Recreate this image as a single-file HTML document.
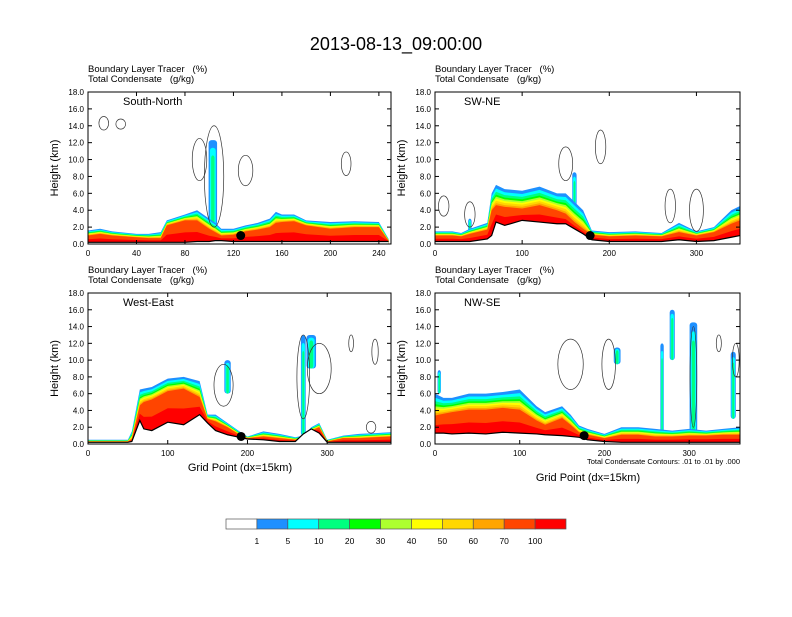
<!DOCTYPE html>
<html><head><meta charset="utf-8"><style>
body{margin:0;background:#fff;font-family:"Liberation Sans",sans-serif}
svg text{font-family:"Liberation Sans",sans-serif}
</style></head><body>
<svg id="c" width="792" height="612" viewBox="0 0 792 612">
<text x="396" y="50" font-size="18" text-anchor="middle">2013-08-13_09:00:00</text>
</svg>
<script>
// ---- data ----
const panelNames = ["South-North","SW-NE","West-East","NW-SE"];
const xMax = [250, 350, 380, 360];
const xTicks = [[0,40,80,120,160,200,240],[0,100,200,300],[0,100,200,300],[0,100,200,300]];
const yTicks = [0,2,4,6,8,10,12,14,16,18];
const gp0 = [0,10,20,40,50,60,65,80,90,100,105,110,120,130,140,150,155,160,170,180,200,220,240,248];
const top0 = [1.6,1.8,1.5,1.2,1.2,1.4,2.8,3.5,4.0,3.0,2.5,1.8,1.8,2.2,2.5,3.0,3.8,3.5,3.5,2.8,2.6,2.7,2.6,0.6];
const core0 = [1.0,1.2,1.0,0.8,0.7,0.7,2.2,2.8,2.8,1.8,1.4,1.0,1.1,1.5,1.7,2.0,2.5,2.6,2.7,2.2,1.8,2.0,2.0,0.4];
const terr0 = [0.2,0.2,0.2,0.2,0.2,0.2,0.2,0.2,0.3,0.3,0.4,0.4,0.3,0.3,0.3,0.3,0.3,0.3,0.3,0.3,0.3,0.3,0.3,0.3];
const gp1 = [0,20,30,40,60,65,70,80,100,120,140,150,160,170,180,200,230,260,280,290,300,320,340,350];
const top1 = [1.5,1.5,1.3,1.8,2.5,6.0,7.0,6.5,6.3,6.8,6.0,6.0,5.0,4.0,1.6,1.4,1.5,1.3,2.5,2.0,1.5,2.0,4.0,4.5];
const core1 = [1.0,1.0,0.9,1.2,1.7,4.0,4.6,4.4,4.2,4.6,4.0,3.6,2.6,1.8,1.1,0.9,1.0,0.9,1.4,1.2,1.0,1.4,2.4,2.8];
const terr1 = [0.3,0.3,0.3,0.3,0.6,1.0,2.6,2.2,2.8,2.6,2.4,2.4,1.8,1.2,0.5,0.3,0.3,0.3,0.5,0.4,0.3,0.4,0.8,1.0];
const gp2 = [0,20,50,55,65,70,80,100,120,140,150,160,175,190,200,220,240,260,270,280,290,300,320,340,360,380];
const top2 = [0.5,0.5,0.5,1.5,6.5,6.6,6.8,7.8,8.0,7.5,3.5,3.5,2.5,1.5,0.9,1.5,1.2,0.8,1.0,2.0,2.5,0.5,1.0,1.2,1.3,1.4];
const core2 = [0.3,0.3,0.3,0.6,4.6,5.0,5.3,6.3,6.6,5.6,3.0,2.7,2.0,1.1,0.7,0.9,0.7,0.5,0.7,1.6,2.0,0.3,0.7,0.7,0.8,0.9];
const terr2 = [0.2,0.2,0.2,0.3,2.8,1.8,1.6,2.6,2.3,3.5,2.5,1.6,1.1,0.8,0.6,0.5,0.3,0.3,1.2,1.8,1.3,0.2,0.2,0.2,0.2,0.2];
const gp3 = [0,10,20,40,60,80,100,120,130,150,160,170,180,200,220,240,260,280,300,320,340,360];
const top3 = [6.0,5.5,5.5,6.0,6.0,6.2,6.5,4.5,3.8,4.5,3.5,2.2,1.8,1.2,2.0,2.0,1.8,1.6,1.8,1.6,1.8,2.0];
const core3 = [3.4,3.6,3.8,4.1,4.1,4.3,4.1,2.8,2.3,3.1,2.3,1.4,1.1,0.7,1.1,1.1,0.9,0.9,1.0,1.0,1.1,1.1];
const terr3 = [1.3,1.3,1.2,1.3,1.2,1.4,1.3,1.2,1.1,1.0,0.9,0.8,0.5,0.3,0.2,0.2,0.2,0.2,0.2,0.2,0.2,0.2];
// towers: [gp, bottom km, top km, width gp]
const towers = [[[103,1.0,12.3,7]],[[160,2.0,8.5,5],[40,1.0,3.0,4]],[[270,1.0,13.0,6],[280,9.0,13.0,12],[175,6.0,10.0,8]],[[5,6.0,8.8,4],[268,1.0,12.0,4],[305,1.0,14.5,9],[280,10.0,16.0,6],[352,3.0,11.0,6],[215,9.5,11.5,8]]];
// contour loops: [gp, km, half-width gp, half-height km]
const loops = [[[13,14.3,4,0.8],[27,14.2,4,0.6],[92,10,6,2.5],[104,8,8,6],[130,8.7,6,1.8],[213,9.5,4,1.4]],
  [[10,4.5,6,1.2],[40,3.5,6,1.5],[150,9.5,8,2],[190,11.5,6,2],[270,4.5,6,2],[300,4.0,8,2.5]],
  [[170,7,12,2.5],[270,8,8,5],[290,9,15,3],[330,12,3,1],[360,11,4,1.5],[355,2.0,6,0.7]],
  [[160,9.5,15,3],[205,9.5,8,3],[305,8,4,6],[335,12,3,1],[355,10,4,2]]];
const station = [[126,1.0],[178,1.0],[192,0.9],[176,1.0]];
const cbLabels = ["1","5","10","20","30","40","50","60","70","100"];
const cbColors = ["#ffffff","#1e90ff","#00ffff","#00ff7f","#00ff00","#adff2f","#ffff00","#ffd700","#ffa500","#ff4500","#ff0000"];
// band position fractions between core and top (style, not data)
const bandFrac = [1,0.82,0.66,0.52,0.42,0.32,0.22,0.1];
// ---- layout ----
const frames = [[88,92,391,244],[435,92,740,244],[88,293,391,444],[435,293,740,444]];
const GP=[gp0,gp1,gp2,gp3], TOP=[top0,top1,top2,top3], CORE=[core0,core1,core2,core3], TER=[terr0,terr1,terr2,terr3];
const svg=document.getElementById('c'), NS="http://www.w3.org/2000/svg";
function mk(tag,attrs,parent){const e=document.createElementNS(NS,tag);for(const k in attrs)e.setAttribute(k,attrs[k]);(parent||svg).appendChild(e);return e;}
for(let p=0;p<4;p++){
  const [x0,y0,x1,y1]=frames[p];
  const sx=v=>x0+(x1-x0)*v/xMax[p], sy=v=>y1-(y1-y0)*v/18;
  const g=mk('g',{});
  
  
  const cp=mk('clipPath',{id:'cl'+p},g); mk('rect',{x:x0,y:y0,width:x1-x0,height:y1-y0},cp);
  const pl=mk('g',{'clip-path':'url(#cl'+p+')'},g);
  const gp=GP[p],tp=TOP[p],co=CORE[p],te=TER[p];
  // towers (behind bands)
  towers[p].forEach(t=>{
    const cols=["#1e90ff","#00ffff","#00ff7f"];
    for(let k=0;k<3;k++){
      const f=1-k*0.3;
      const e=mk('rect',{x:sx(t[0]-t[3]/2*f),y:sy(t[2]-(t[2]-t[1])*0.08*k),width:Math.max(1,(sx(t[3]*f)-sx(0))),height:sy(t[1])-sy(t[2]-(t[2]-t[1])*0.08*k),rx:3,fill:cols[k]},pl);
      
      
    }
  });
  for(let b=1;b<=10;b++){
    let pts=[];
    for(let i=0;i<gp.length;i++){
      let h;
      if(b<=8) h=co[i]+(tp[i]-co[i])*bandFrac[b-1];
      else if(b==9) h=co[i];
      else h=te[i]+(co[i]-te[i])*0.45;
      pts.push(sx(gp[i])+','+sy(h));
    }
    for(let i=gp.length-1;i>=0;i--) pts.push(sx(gp[i])+','+sy(0));
    const e=mk('polygon',{points:pts.join(' '),fill:cbColors[b]},pl);
    
    
  }
  let tpts=[];for(let i=0;i<gp.length;i++)tpts.push(sx(gp[i])+','+sy(te[i]));
  mk('polygon',{points:tpts.join(' ')+' '+sx(gp[gp.length-1])+','+sy(0)+' '+sx(gp[0])+','+sy(0),fill:'#fff'},pl);
  const tl=mk('polyline',{points:tpts.join(' '),fill:'none',stroke:'#000','stroke-width':1.2},pl);
  
  
  loops[p].forEach(l=>{
    const e=mk('ellipse',{cx:sx(l[0]),cy:sy(l[1]),rx:sx(l[2])-sx(0),ry:sy(0)-sy(l[3]),fill:'none',stroke:'#333','stroke-width':0.7},pl);
    
    
  });
  const d=mk('circle',{cx:sx(station[p][0]),cy:sy(station[p][1]),r:4.5,fill:'#000'},g);
  
  
  mk('rect',{x:x0,y:y0,width:x1-x0,height:y1-y0,fill:'none',stroke:'#000','stroke-width':1},g);
  yTicks.forEach(v=>{
    const y=sy(v);
    mk('line',{x1:x0,y1:y,x2:x0+4,y2:y,stroke:'#000'},g);
    mk('line',{x1:x1,y1:y,x2:x1-4,y2:y,stroke:'#000'},g);
    const t=mk('text',{x:x0-4,y:y+3,'font-size':8,'text-anchor':'end'},g);t.textContent=v.toFixed(1);
    
    
  });
  xTicks[p].forEach(v=>{
    const x=sx(v);
    mk('line',{x1:x,y1:y1,x2:x,y2:y1-4,stroke:'#000'},g);
    mk('line',{x1:x,y1:y0,x2:x,y2:y0+4,stroke:'#000'},g);
    const t=mk('text',{x:x,y:y1+12,'font-size':8,'text-anchor':'middle'},g);t.textContent=v;
    
    
  });
  const yt=mk('text',{x:0,y:0,'font-size':11,'text-anchor':'middle',transform:`translate(${x0-30},${(y0+y1)/2}) rotate(-90)`},g);
  yt.textContent='Height (km)';
  
  
  const h1=mk('text',{x:x0,y:y0-20,'font-size':9.5},g);h1.textContent='Boundary Layer Tracer\u00a0\u00a0\u00a0(%)';
  
  
  const h2=mk('text',{x:x0,y:y0-10,'font-size':9.5},g);h2.textContent='Total Condensate\u00a0\u00a0\u00a0(g/kg)';
  
  
  const nm=mk('text',{x:x0+(p%2?29:35),y:y0+13,'font-size':11},g);nm.textContent=panelNames[p];
  
  
}
[[240,471],[588,481]].forEach(a=>{
  const t=mk('text',{x:a[0],y:a[1],'font-size':11,'text-anchor':'middle'});t.textContent='Grid Point (dx=15km)';
  
  
});
const note=mk('text',{x:740,y:464,'font-size':7.5,'text-anchor':'end'});note.textContent='Total Condensate Contours: .01 to .01 by .000';


const cb=mk('g',{});


const cw=(566-226)/11;
cbColors.forEach((c,i)=>{
  const r=mk('rect',{x:226+i*cw,y:519,width:cw,height:10,fill:c,stroke:'#555','stroke-width':0.7},cb);
  
  
});
cbLabels.forEach((l,i)=>{
  const t=mk('text',{x:226+(i+1)*cw,y:544,'font-size':8.5,'text-anchor':'middle'},cb);t.textContent=l;
  
  
});
</script>
</body></html>
